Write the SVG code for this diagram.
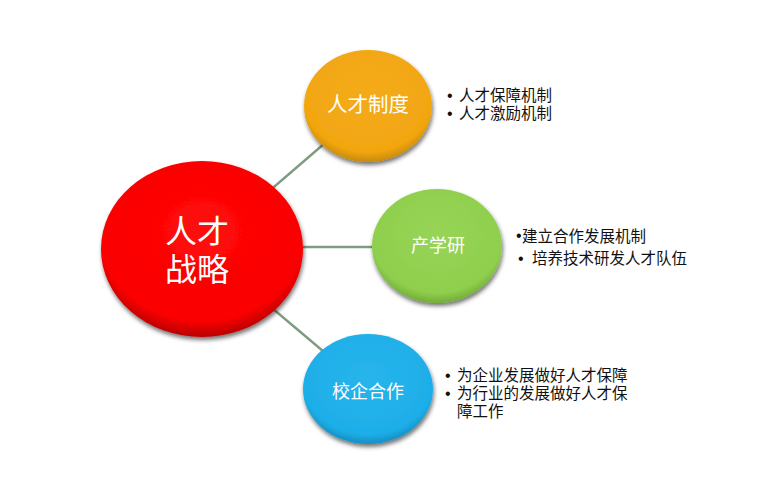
<svg xmlns="http://www.w3.org/2000/svg" width="763" height="500" viewBox="0 0 763 500">
<defs>
<style>
.lbl{font-family:"Noto Sans CJK SC","Noto Sans",sans-serif;fill:#ffffff;text-anchor:middle}
.bul{font-family:"Noto Sans CJK SC","Noto Sans",sans-serif;fill:#111111;font-size:15.5px}
.dot{font-family:"Liberation Sans",Arial,sans-serif;fill:#111111;font-size:16px}
.con{stroke:#7f9c80;stroke-width:2.5;fill:none}
</style>
<filter id="sh" x="-20%" y="-20%" width="140%" height="150%">
<feDropShadow dx="1" dy="3" stdDeviation="2" flood-color="#000" flood-opacity="0.55"/>
</filter>
<radialGradient id="gRed" cx="50%" cy="40%" r="60%">
<stop offset="0" stop-color="#ff0a0a"/>
<stop offset="0.85" stop-color="#fa0000"/>
<stop offset="1" stop-color="#b80000"/>
</radialGradient>
<radialGradient id="gOrange" cx="50%" cy="40%" r="60%">
<stop offset="0" stop-color="#f5ab18"/>
<stop offset="0.85" stop-color="#f2a611"/>
<stop offset="1" stop-color="#c88a0a"/>
</radialGradient>
<radialGradient id="gGreen" cx="50%" cy="40%" r="60%">
<stop offset="0" stop-color="#97d457"/>
<stop offset="0.85" stop-color="#8fcf4d"/>
<stop offset="1" stop-color="#73ad38"/>
</radialGradient>
<radialGradient id="gBlue" cx="50%" cy="40%" r="60%">
<stop offset="0" stop-color="#27b5ec"/>
<stop offset="0.85" stop-color="#1eaee8"/>
<stop offset="1" stop-color="#158fc2"/>
</radialGradient>
</defs>
<rect width="763" height="500" fill="#ffffff"/>
<g id="connectors">
<line class="con" x1="202" y1="249" x2="368" y2="106"/>
<line class="con" x1="202" y1="247" x2="437" y2="247"/>
<line class="con" x1="202" y1="249" x2="368" y2="389"/>
</g>
<g id="node-main">
<ellipse cx="202" cy="249" rx="101" ry="88" fill="url(#gRed)" filter="url(#sh)"/>
<text class="lbl" x="197" y="243" font-size="32">人才</text>
<text class="lbl" x="197" y="281" font-size="32">战略</text>
</g>
<g id="node-zhidu">
<ellipse cx="368" cy="106" rx="64" ry="56" fill="url(#gOrange)" filter="url(#sh)"/>
<text class="lbl" x="368" y="112" font-size="20.5">人才制度</text>
</g>
<g id="node-chanxueyan">
<ellipse cx="437" cy="246" rx="65" ry="57" fill="url(#gGreen)" filter="url(#sh)"/>
<text class="lbl" x="438" y="252" font-size="18">产学研</text>
</g>
<g id="node-xiaoqi">
<ellipse cx="368" cy="389" rx="65" ry="55" fill="url(#gBlue)" filter="url(#sh)"/>
<text class="lbl" x="368" y="398" font-size="18">校企合作</text>
</g>
<g id="text-zhidu">
<text class="dot" x="447" y="101">•</text>
<text class="bul" x="459" y="101">人才保障机制</text>
<text class="dot" x="447" y="119">•</text>
<text class="bul" x="459" y="119">人才激励机制</text>
</g>
<g id="text-chanxueyan">
<text class="dot" x="516" y="241" font-size="10">•</text>
<text class="bul" x="522" y="242">建立合作发展机制</text>
<text class="dot" x="518" y="264">•</text>
<text class="bul" x="532" y="264">培养技术研发人才队伍</text>
</g>
<g id="text-xiaoqi">
<text class="dot" x="445" y="381">•</text>
<text class="bul" x="457" y="381">为企业发展做好人才保障</text>
<text class="dot" x="445" y="399">•</text>
<text class="bul" x="457" y="399">为行业的发展做好人才保</text>
<text class="bul" x="457" y="417">障工作</text>
</g>
</svg>
